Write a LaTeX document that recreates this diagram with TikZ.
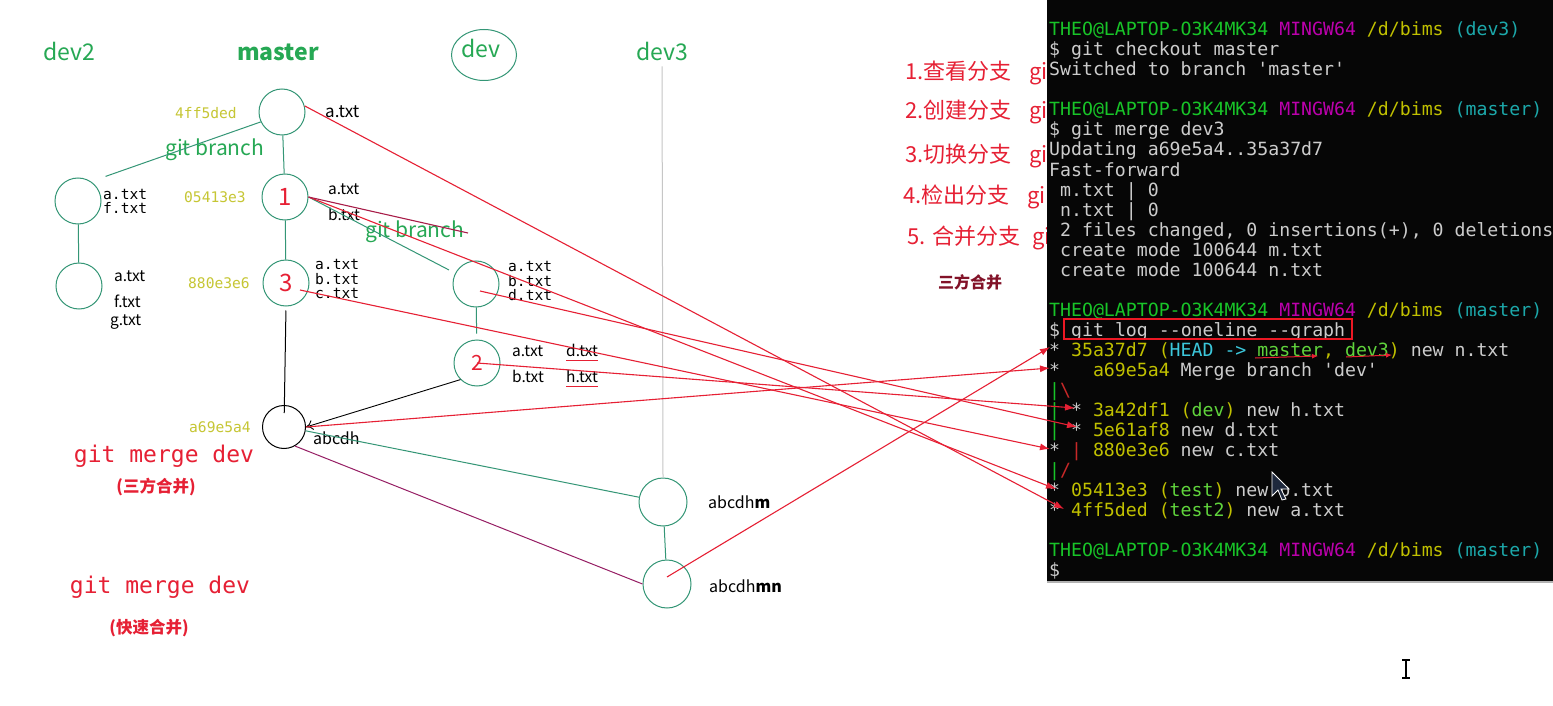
\documentclass[tikz,border=0pt]{standalone}
\usepackage{fontspec}
\setmainfont{Noto Sans CJK SC}
\setmonofont{DejaVu Sans Mono}
\usetikzlibrary{arrows.meta,shapes.geometric}
\definecolor{cline}{RGB}{52,150,118}
\definecolor{cgreen}{RGB}{38,168,84}
\definecolor{chash}{RGB}{198,198,52}
\definecolor{cred}{RGB}{230,32,52}
\definecolor{cdred}{RGB}{168,28,72}
\definecolor{cmag}{RGB}{150,30,100}
\definecolor{cdark}{RGB}{130,18,40}
\definecolor{tbg}{RGB}{6,6,6}
\definecolor{tgray}{RGB}{204,204,204}
\definecolor{tgreen}{RGB}{24,196,40}
\definecolor{tlime}{RGB}{96,212,60}
\definecolor{tmag}{RGB}{188,0,172}
\definecolor{tyel}{RGB}{192,192,0}
\definecolor{tcyan}{RGB}{28,168,170}
\definecolor{thead}{RGB}{60,200,220}
\definecolor{tred}{RGB}{200,40,40}
\definecolor{boxred}{RGB}{236,24,36}
\newcommand{\pgreen}[1]{\textcolor{tgreen}{#1}}
\newcommand{\plime}[1]{\textcolor{tlime}{#1}}
\newcommand{\pmag}[1]{\textcolor{tmag}{#1}}
\newcommand{\pyel}[1]{\textcolor{tyel}{#1}}
\newcommand{\pcyan}[1]{\textcolor{tcyan}{#1}}
\newcommand{\pred}[1]{\textcolor{tred}{#1}}
\newcommand{\prompt}[1]{\pgreen{THEO@LAPTOP-O3K4MK34} \pmag{MINGW64} \pyel{/d/bims} \pcyan{(#1)}}

\begin{document}
\begin{tikzpicture}[x=1pt,y=-1pt]
\tikzstyle{commit}=[circle,draw=cline,line width=1pt,minimum size=46pt,inner sep=0pt,text=cred,font=\fontsize{24}{24}\selectfont]
\tikzstyle{mergec}=[circle,draw=black,line width=1pt,minimum size=43pt,inner sep=0pt]
\tikzstyle{branch}=[anchor=base,inner sep=0pt,text=cgreen,font=\fontsize{23}{23}\selectfont]
\tikzstyle{gitbr}=[anchor=base west,inner sep=0pt,text=cgreen,font=\fontsize{21}{21}\selectfont]
\tikzstyle{hash}=[anchor=base west,inner sep=0pt,text=chash,font=\ttfamily\fontsize{14.6}{14.6}\selectfont]
\tikzstyle{monofile}=[anchor=base west,inner sep=0pt,font=\ttfamily\fontsize{14.6}{14.6}\selectfont]
\tikzstyle{file}=[anchor=base west,inner sep=0pt,font=\fontsize{15.5}{15.5}\selectfont]
\tikzstyle{cmdred}=[anchor=base,inner sep=0pt,text=cred,font=\ttfamily\fontsize{23}{23}\selectfont]
\tikzstyle{note}=[inner sep=0pt,text=cred,font=\bfseries\fontsize{16.5}{16.5}\selectfont]
\tikzstyle{menu}=[anchor=base west,inner sep=0pt,text=cred,font=\fontsize{22}{22}\selectfont]
\tikzstyle{termline}=[anchor=base west,inner sep=0pt,text=tgray,font=\ttfamily\fontsize{18.2}{20}\selectfont]
\tikzstyle{greenline}=[cline,line width=1pt]
\tikzstyle{redline}=[cred,line width=1.1pt]
\tikzstyle{redarrow}=[cred,line width=1.1pt,-{Latex[length=10pt,width=7pt]}]
\useasboundingbox (0,0) rectangle (1553,706);
\fill[white] (0,0) rectangle (1553,706);

\node[menu] (l1) at (905,80) {1.查看分支\hspace{18pt}gi};
\node[menu] (l2) at (905,119) {2.创建分支\hspace{18pt}gi};
\node[menu] (l3) at (905,162) {3.切换分支\hspace{18pt}gi};
\node[menu] (l4) at (903,204) {4.检出分支\hspace{18pt}gi};
\node[menu] (l5) at (907,244) {5. 合并分支\hspace{12pt}gi};
\node[note,text=cdark,font=\bfseries\fontsize{16}{16}\selectfont] (sanfang) at (970,282) {三方合并};

\fill[tbg] (1047,0) rectangle (1553,582);
\draw[gray!60,line width=1.5pt] (1047,582) -- (1553,582);
\node[termline] (t1) at (1049,36) {\prompt{dev3}};
\node[termline] (t2) at (1049,56) {\$ git checkout master};
\node[termline] (t3) at (1049,76) {Switched to branch 'master'};
\node[termline] (t4) at (1049,116) {\prompt{master}};
\node[termline] (t5) at (1049,136) {\$ git merge dev3};
\node[termline] (t6) at (1049,156) {Updating a69e5a4..35a37d7};
\node[termline] (t7) at (1049,176) {Fast-forward};
\node[termline] (t8) at (1049,196) {~m.txt | 0};
\node[termline] (t9) at (1049,216) {~n.txt | 0};
\node[termline] (t10) at (1049,236) {~2 files changed, 0 insertions(+), 0 deletions};
\node[termline] (t11) at (1049,256) {~create mode 100644 m.txt};
\node[termline] (t12) at (1049,276) {~create mode 100644 n.txt};
\node[termline] (t13) at (1049,316) {\prompt{master}};
\node[termline] (t14) at (1049,336) {\$};
\node[termline] (cmd) at (1071,336) {git log --oneline --graph};
\draw[boxred,line width=2pt] ([shift={(-7,-17)}]cmd.base west) rectangle ([shift={(7,3)}]cmd.base east);
\node[termline] (t15) at (1049,356) {* \pyel{35a37d7 (}\textcolor{thead}{HEAD ->} \plime{master}\pyel{,} \plime{dev3}\pyel{)} new n.txt};
\node[termline] (t16) at (1049,376) {*~~~\pyel{a69e5a4} Merge branch 'dev'};
\node[termline] (t17) at (1049,396) {\pgreen{|}\pred{\textbackslash}};
\node[termline] (t18) at (1049,416) {\pgreen{|} * \pyel{3a42df1 (}\plime{dev}\pyel{)} new h.txt};
\node[termline] (t19) at (1049,436) {\pgreen{|} * \pyel{5e61af8} new d.txt};
\node[termline] (t20) at (1049,456) {* \pred{|} \pyel{880e3e6} new c.txt};
\node[termline] (t21) at (1049,476) {\pgreen{|}\pred{/}};
\node[termline] (t22) at (1049,496) {* \pyel{05413e3 (}\plime{test}\pyel{)} new b.txt};
\node[termline] (t23) at (1049,516) {* \pyel{4ff5ded (}\plime{test2}\pyel{)} new a.txt};
\node[termline] (t24) at (1049,556) {\prompt{master}};
\node[termline] (t25) at (1049,576) {\$};

\node[branch] (tdev2) at (69,61) {dev2};
\node[branch,font=\bfseries\fontsize{23}{23}\selectfont] (tmaster) at (278,61) {master};
\node[ellipse,draw=cline,line width=1pt,minimum width=65pt,minimum height=51pt,inner sep=0pt] (devring) at (484,55) {};
\node[branch] (tdev) at (481,58) {dev};
\node[branch] (tdev3) at (662,61) {dev3};

\node[commit] (m0) at (282,112) {};
\node[commit] (m1) at (285,197) {1};
\node[commit] (m3) at (286,283) {3};
\node[mergec] (m4) at (284,427) {};
\node[commit] (a1) at (78,201) {};
\node[commit] (a2) at (79,286) {};
\node[commit] (d1) at (476,284) {};
\node[commit,font=\fontsize{21}{21}\selectfont] (d2) at (477,363) {2};
\node[commit,minimum size=48pt] (e1) at (663,502) {};
\node[commit,minimum size=48pt] (e2) at (667,584) {};

\node[hash] (h0) at (175,119) {4ff5ded};
\node[hash] (h1) at (184,202) {05413e3};
\node[hash] (h3) at (188,288) {880e3e6};
\node[hash] (h4) at (189,432) {a69e5a4};
\node[gitbr] (gb1) at (165,156) {git branch};
\node[gitbr] (gb2) at (365,237) {git branch};

\node[file,font=\fontsize{17}{17}\selectfont] (fm0) at (325,118) {a.txt};
\node[file] (fm1a) at (328,194) {a.txt};
\node[file] (fm1b) at (328,220) {b.txt};
\node[monofile] (fa1a) at (103,199) {a.txt};
\node[monofile] (fa1b) at (103,213) {f.txt};
\node[file] (fa2a) at (114,281) {a.txt};
\node[file] (fa2b) at (114,307) {f.txt};
\node[file] (fa2c) at (110,325) {g.txt};
\node[monofile] (fm3a) at (315,269) {a.txt};
\node[monofile] (fm3b) at (315,284) {b.txt};
\node[monofile] (fm3c) at (315,298) {c.txt};
\node[monofile] (fd1a) at (508,271) {a.txt};
\node[monofile] (fd1b) at (508,286) {b.txt};
\node[monofile] (fd1c) at (508,300) {d.txt};
\node[file] (fd2a) at (512,356) {a.txt};
\node[file] (fd2b) at (566,356) {d.txt};
\node[file] (fd2c) at (512,382) {b.txt};
\node[file] (fd2d) at (566,382) {h.txt};
\node[file,font=\fontsize{16}{16}\selectfont] (fm4) at (313,444) {abcdh};
\node[file,font=\fontsize{16}{16}\selectfont] (fe1) at (708,508) {abcdh\textbf{m}};
\node[file,font=\fontsize{16}{16}\selectfont] (fe2) at (709,592) {abcdh\textbf{mn}};

\node[cmdred] (gm1) at (164,462) {git merge dev};
\node[note] (n1) at (156,487) {(三方合并)};
\node[cmdred] (gm2) at (160,593) {git merge dev};
\node[note] (n2) at (149,628) {(快速合并)};

\draw[greenline] (m0) -- (m1);
\draw[greenline] (m1) -- (m3);
\draw[black,line width=1pt,shorten <=4pt,shorten >=14pt] (m3.south) -- (m4.center);
\draw[greenline] (m0.205) -- ([shift={(11,-8)}]a1.north east);
\draw[greenline] (a1) -- (a2);
\draw[greenline,shorten >=7pt] (m1.east) -- (d1);
\draw[greenline,shorten >=6pt] (d1) -- (d2);
\draw[black,line width=0.9pt,-{To[length=7pt,width=10pt]}] (d2.south west) -- (m4.east);
\draw[greenline] (m4.-10) -- (e1);
\draw[cmag,line width=1pt] (m4.-60) -- (e2.west);
\draw[greenline] (e1) -- (e2);
\draw[gray!45,line width=1pt,shorten <=5pt] (tdev3.south) -- (e1.north);
\draw[cred,line width=1pt] ([yshift=-4pt]fd2b.south west) -- ([yshift=-4pt]fd2b.south east);
\draw[cred,line width=1pt] ([yshift=-4pt]fd2d.south west) -- ([yshift=-4pt]fd2d.south east);

\coordinate (s1) at (1050,347);
\coordinate (s2) at (1050,368);
\coordinate (s3) at (1075,408);
\coordinate (s4) at (1077,427);
\coordinate (s5) at (1050,449);
\coordinate (s6) at (1056,489);
\coordinate (s7) at (1064,509);
\coordinate (gbend) at (468,233);
\draw[redarrow] (m0.15) -- (s7);
\draw[redarrow] (m1.east) -- (s6);
\draw[cdred,line width=1.1pt] (m1.east) -- (gbend);
\draw[redarrow] ([shift={(14,7)}]m3.center) -- (s5);
\draw[redarrow] ([shift={(4,7)}]d1.center) -- (s4);
\draw[redarrow] (d2.center) -- (s3);
\draw[redarrow] (m4.east) -- (s2);
\draw[redarrow] ([shift={(0,-7)}]e2.center) -- (s1);

\coordinate (u1) at (1255,358);
\coordinate (u2) at (1318,356);
\coordinate (u3) at (1346,357);
\coordinate (u4) at (1392,355);
\draw[cred,line width=1pt,-{Latex[length=6pt,width=5pt]}] (u1) -- (u2);
\draw[cred,line width=1pt,-{Latex[length=6pt,width=5pt]}] (u3) -- (u4);

\draw[white,fill={rgb,255:red,30;green,40;blue,60},line width=0.8pt] (1272,472) -- (1272,496) -- (1278,490) -- (1282,500) -- (1286,499) -- (1281,489) -- (1289,489) -- cycle;
\draw[black,line width=1.2pt] (1402,660) -- (1410,660) (1406,660) -- (1406,678) (1402,678) -- (1410,678);
\end{tikzpicture}
\end{document}
